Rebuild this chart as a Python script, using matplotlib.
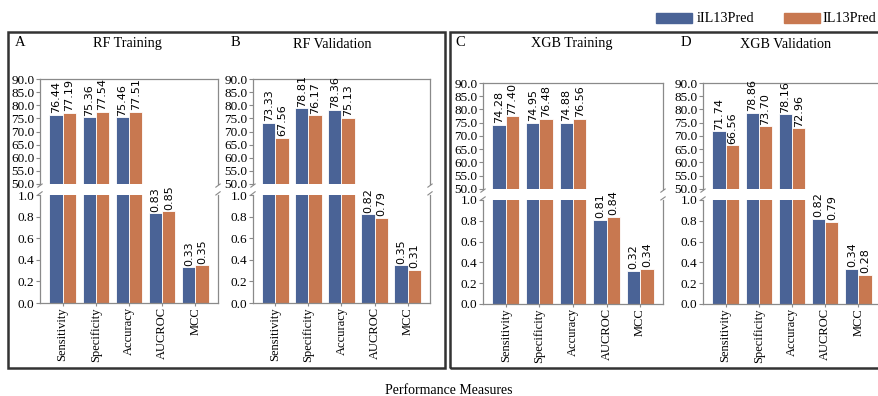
import matplotlib
matplotlib.use("Agg")
import matplotlib.pyplot as plt
from matplotlib.patches import Rectangle
import numpy as np

categories = ["Sensitivity", "Specificity", "Accuracy", "AUCROC", "MCC"]
series_names = ["iIL13Pred", "IL13Pred"]
panel_letters = ["A", "B", "C", "D"]
panel_titles = ["RF Training", "RF Validation", "XGB Training", "XGB Validation"]

rf_train_iil13 = [76.44, 75.36, 75.46, 0.83, 0.33]
rf_train_il13 = [77.19, 77.54, 77.51, 0.85, 0.35]
rf_val_iil13 = [73.33, 78.81, 78.36, 0.82, 0.35]
rf_val_il13 = [67.56, 76.17, 75.13, 0.79, 0.31]
xgb_train_iil13 = [74.28, 74.95, 74.88, 0.81, 0.32]
xgb_train_il13 = [77.40, 76.48, 76.56, 0.84, 0.34]
xgb_val_iil13 = [71.74, 78.86, 78.16, 0.82, 0.34]
xgb_val_il13 = [66.56, 73.70, 72.96, 0.79, 0.28]

panels = [
    (rf_train_iil13, rf_train_il13),
    (rf_val_iil13, rf_val_il13),
    (xgb_train_iil13, xgb_train_il13),
    (xgb_val_iil13, xgb_val_il13),
]

top_ticks = [50.0, 55.0, 60.0, 65.0, 70.0, 75.0, 80.0, 85.0, 90.0]
bot_ticks = [0.0, 0.2, 0.4, 0.6, 0.8, 1.0]

BLUE = "#4a6396"
ORANGE = "#c87850"
SPINE = "#8a8a8a"
SERIF = ["Liberation Serif", "DejaVu Serif"]
SANS = ["DejaVu Sans"]

W, H = 879, 396
fig = plt.figure(figsize=(W / 100, H / 100), dpi=100)

def fx(px):
    return px / W

def fy(py):
    return 1 - py / H

# pixel layout: (x0, x1, top_y0, top_y1, bot_y0, bot_y1)
layouts = [
    (40, 218, 79, 184, 195, 303),
    (253, 430, 79, 184, 195, 303),
    (483, 663, 83, 189, 200, 304),
    (703, 881, 83, 189, 200, 304),
]

bw = 0.4
x = np.arange(len(categories))

def style_axis(ax):
    for s in ax.spines.values():
        s.set_color(SPINE)
        s.set_linewidth(0.9)
    ax.tick_params(axis="y", colors="black", labelsize=9.5, length=3, width=0.8,
                   pad=1, color=SPINE)
    for lab in ax.get_yticklabels():
        lab.set_fontfamily(SERIF)

for i, (vals, (x0, x1, ty0, ty1, by0, by1)) in enumerate(zip(panels, layouts)):
    a_vals, b_vals = vals
    axt = fig.add_axes([fx(x0), fy(ty1), fx(x1 - x0), (ty1 - ty0) / H])
    axb = fig.add_axes([fx(x0), fy(by1), fx(x1 - x0), (by1 - by0) / H])
    for ax in (axt, axb):
        ax.bar(x - bw / 2, a_vals, bw, color=BLUE, edgecolor="white", linewidth=0.6)
        ax.bar(x + bw / 2, b_vals, bw, color=ORANGE, edgecolor="white", linewidth=0.6)
        ax.set_xlim(-0.68, 4.68)
    axt.set_ylim(50, 90)
    axb.set_ylim(0, 1.0)
    axt.set_yticks(top_ticks)
    axt.set_yticklabels([f"{t:.1f}" for t in top_ticks])
    axb.set_yticks(bot_ticks)
    axb.set_yticklabels([f"{t:.1f}" for t in bot_ticks])
    axt.spines["bottom"].set_visible(False)
    axb.spines["top"].set_visible(False)
    axt.set_xticks([])
    axb.set_xticks(x)
    axb.set_xticklabels(categories, rotation=90, fontfamily=SERIF, fontsize=9)
    axb.tick_params(axis="x", length=2, color=SPINE, pad=1)
    style_axis(axt)
    style_axis(axb)
    # value labels
    for j in range(len(categories)):
        for off, v in ((-bw / 2, a_vals[j]), (bw / 2, b_vals[j])):
            if v > 1:
                axt.text(x[j] + off, v + 0.6, f"{v:.2f}", rotation=90, ha="center",
                         va="bottom", fontsize=8, family=SANS)
            else:
                axb.text(x[j] + off, v + 0.015, f"{v:.2f}", rotation=90, ha="center",
                         va="bottom", fontsize=8, family=SANS)
    # break marks
    d = 0.012
    kw = dict(color=SPINE, clip_on=False, lw=0.8)
    for xx in (0, 1):
        axt.plot([xx - d, xx + d], [-0.03, 0.0], transform=axt.transAxes, **kw)
        axb.plot([xx - d, xx + d], [1.0, 1.03], transform=axb.transAxes, **kw)

    # panel letter and title
    letter_x = [15, 231, 455, 681][i]
    title_x = [127, 332, 572, 786][i]
    fig.text(fx(letter_x), fy(43), panel_letters[i], fontsize=10.5, family=SERIF,
             ha="left", va="center")
    fig.text(fx(title_x), fy(44), panel_titles[i], fontsize=10.2, family=SERIF,
             ha="center", va="center")

# panel frames
fig.patches.append(Rectangle((fx(8), fy(368)), fx(445 - 8), (368 - 32) / H,
                             transform=fig.transFigure, fill=False,
                             edgecolor="#333333", linewidth=1.8))
fig.patches.append(Rectangle((fx(450), fy(368)), fx(884 - 450), (368 - 32) / H,
                             transform=fig.transFigure, fill=False,
                             edgecolor="#333333", linewidth=1.8))

# legend
for px, tx, col, name in ((656, 697, BLUE, series_names[0]),
                          (784, 822, ORANGE, series_names[1])):
    fig.patches.append(Rectangle((fx(px), fy(23)), fx(36), 10 / H,
                                 transform=fig.transFigure, color=col))
    fig.text(fx(tx), fy(18), name, fontsize=10.2, family=SERIF,
             ha="left", va="center")

fig.text(fx(449), fy(391), "Performance Measures", fontsize=10, family=SERIF,
         ha="center", va="center")

fig.savefig("out.png", dpi=100)
